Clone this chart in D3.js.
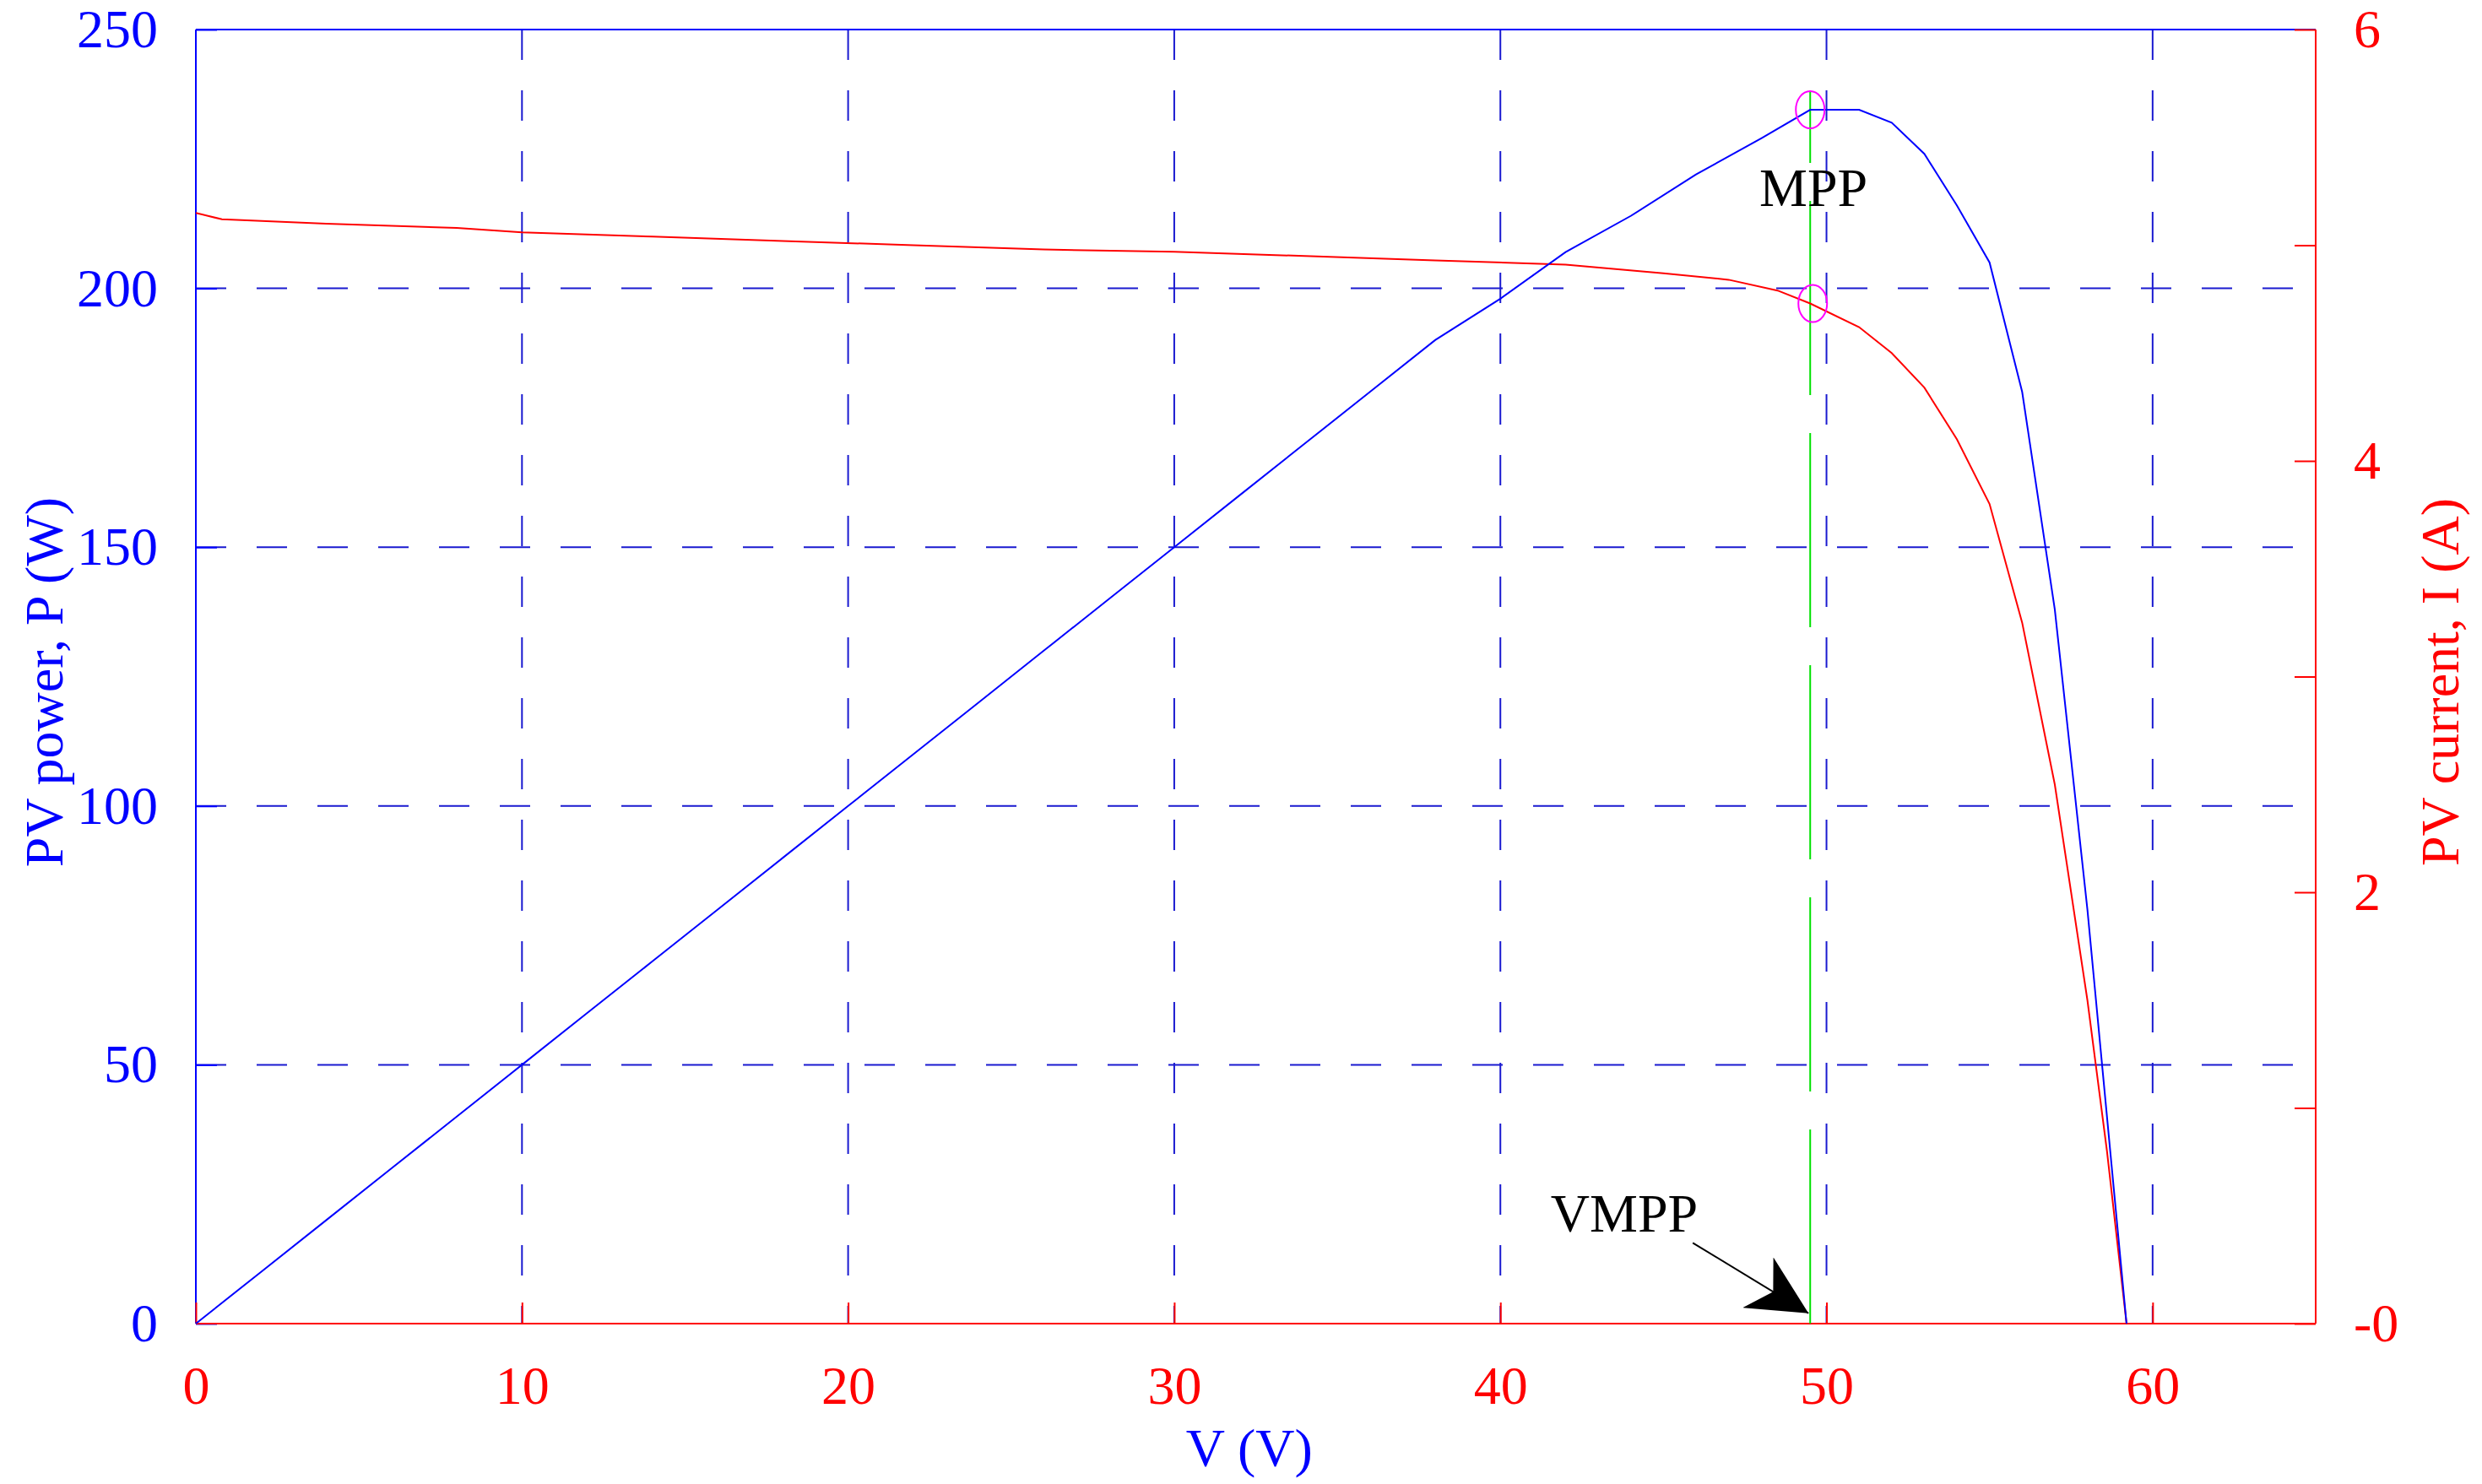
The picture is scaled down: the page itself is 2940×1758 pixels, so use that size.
<!DOCTYPE html>
<html><head><meta charset="utf-8">
<script src="https://cdn.jsdelivr.net/npm/d3@7"></script>
<style>body{margin:0;background:#fff}svg{display:block}text{font-family:"Liberation Serif","Times New Roman",serif}</style>
</head><body><svg id="c" width="2940" height="1758"></svg>
<script>
const powerV = [0,2,4,6,8,10,12,14,16,18,20,22,24,26,28,30,32,34,36,38,40,42,44,46,48,49.5,51,52,53,54,55,56,57,58,59.2];
const powerP = [0,10,20,30,40,50,60,70,80,90,100,110,120,130,140,150,160,170,180,190,198,207,214,222,229,234.5,234.5,232,226,216,205,180,138,80,0];
const currV = [0,0.8,4,8,10,14,18,22,26,30,34,38,42,45,47,48.5,49.5,51,52,53,54,55,56,57,58,58.6,59.2];
const currI = [5.15,5.12,5.1,5.08,5.06,5.04,5.02,5.0,4.98,4.97,4.95,4.93,4.91,4.87,4.84,4.79,4.73,4.62,4.5,4.34,4.1,3.8,3.25,2.5,1.5,0.8,0];
const xTicks = [0,10,20,30,40,50,60];
const pTicks = [0,50,100,150,200,250];
const iTicks = [0,1,2,3,4,5,6];
const iLabels = {0:"-0",2:"2",4:"4",6:"6"};
const mpp = {v:49.5, p:234.5, i:4.73};

const L=232,R=2743,T=35,B=1568;
const svg=d3.select("#c");
const x=d3.scaleLinear().domain([0,65]).range([L,R]);
const yP=d3.scaleLinear().domain([0,250]).range([B,T]);
const yI=d3.scaleLinear().domain([0,6]).range([B,T]);
const FS=64;

// grid
svg.append("g").selectAll("line").data(xTicks.filter(d=>d>0)).join("line")
 .attr("x1",d=>x(d)).attr("x2",d=>x(d)).attr("y1",T).attr("y2",B)
 .attr("stroke","#1a1ad0").attr("stroke-width",2).attr("stroke-dasharray","36 36");
svg.append("g").selectAll("line").data(pTicks.filter(d=>d>0&&d<250)).join("line")
 .attr("x1",L).attr("x2",R).attr("y1",d=>yP(d)).attr("y2",d=>yP(d))
 .attr("stroke","#1a1ad0").attr("stroke-width",2).attr("stroke-dasharray","36 36");

// frame
svg.append("line").attr("x1",L).attr("x2",R).attr("y1",T).attr("y2",T).attr("stroke","#0000ff").attr("stroke-width",2);

// axes
const gl=svg.append("g").attr("transform",`translate(${L},0)`)
 .call(d3.axisLeft(yP).tickValues(pTicks).tickSize(-25).tickPadding(45));
gl.selectAll("path,line").attr("stroke","#0000ff").attr("stroke-width",2);
gl.selectAll("text").attr("fill","#0000ff").style("font-size",FS+"px").style("font-family","Liberation Serif");
gl.select(".domain").attr("d",`M0,${T}V${B}`);

const gb=svg.append("g").attr("transform",`translate(0,${B})`)
 .call(d3.axisBottom(x).tickValues(xTicks).tickSize(-25).tickPadding(50));
gb.selectAll("path,line").attr("stroke","#ff0000").attr("stroke-width",2);
gb.selectAll("text").attr("fill","#ff0000").style("font-size",FS+"px").style("font-family","Liberation Serif");
gb.select(".domain").attr("d",`M${L},0H${R}`);

const gr=svg.append("g").attr("transform",`translate(${R},0)`)
 .call(d3.axisRight(yI).tickValues(iTicks).tickSize(-25).tickPadding(45).tickFormat(d=>iLabels[d]||""));
gr.selectAll("path,line").attr("stroke","#ff0000").attr("stroke-width",2);
gr.selectAll("text").attr("fill","#ff0000").style("font-size",FS+"px").style("font-family","Liberation Serif");
gr.select(".domain").attr("d",`M0,${T}V${B}`);

// green vmpp line
svg.append("line").attr("x1",x(mpp.v)).attr("x2",x(mpp.v)).attr("y1",B).attr("y2",yP(238))
 .attr("stroke","#00e000").attr("stroke-width",2).attr("stroke-dasharray","230 45");

// curves
const pts=(xs,ys)=>xs.map((v,i)=>[v,ys[i]]);
svg.append("path").datum(pts(currV,currI))
 .attr("d",d3.line().x(d=>x(d[0])).y(d=>yI(d[1]))).attr("fill","none").attr("stroke","#ff0000").attr("stroke-width",2);
svg.append("path").datum(pts(powerV,powerP))
 .attr("d",d3.line().x(d=>x(d[0])).y(d=>yP(d[1]))).attr("fill","none").attr("stroke","#0000ff").attr("stroke-width",2);

// MPP markers
svg.append("ellipse").attr("cx",x(mpp.v)).attr("cy",yP(mpp.p)).attr("rx",17).attr("ry",22).attr("fill","none").attr("stroke","#ff00ff").attr("stroke-width",2);
svg.append("ellipse").attr("cx",x(mpp.v)+3).attr("cy",yI(mpp.i)).attr("rx",17).attr("ry",22).attr("fill","none").attr("stroke","#ff00ff").attr("stroke-width",2);

// annotations
svg.append("text").attr("x",x(49.6)).attr("y",yP(219.6)).attr("dy","0.35em").attr("text-anchor","middle")
 .style("font-size",FS+"px").attr("fill","#000").text("MPP");
svg.append("text").attr("x",x(43.8)).attr("y",yP(21.4)).attr("dy","0.35em").attr("text-anchor","middle")
 .style("font-size",FS+"px").attr("fill","#000").text("VMPP");
const ax1=x(45.9), ay1=yP(15.6), ax2=x(mpp.v)-2, ay2=yP(2);
svg.append("defs").append("marker").attr("id","ah").attr("viewBox","0 0 10 10").attr("refX",10).attr("refY",5)
 .attr("markerWidth",12).attr("markerHeight",12).attr("markerUnits","userSpaceOnUse")
 .attr("orient","auto").append("path").attr("d","M0,0L10,5L0,10L3,5Z").attr("fill","#000");
svg.select("#ah").attr("markerWidth",70).attr("markerHeight",70);
svg.append("line").attr("x1",ax1).attr("y1",ay1).attr("x2",ax2).attr("y2",ay2).attr("stroke","#000").attr("stroke-width",2).attr("marker-end","url(#ah)");

// axis titles
svg.append("text").attr("x",x(32.3)).attr("y",1715).attr("dy","0.35em").attr("text-anchor","middle")
 .style("font-size",FS+"px").attr("fill","#0000ff").text("V (V)");
svg.append("text").attr("transform","translate(52,808) rotate(-90)").attr("dy","0.35em").attr("text-anchor","middle")
 .style("font-size",FS+"px").attr("fill","#0000ff").text("PV power, P (W)");
svg.append("text").attr("transform","translate(2890,808) rotate(-90)").attr("dy","0.35em").attr("text-anchor","middle")
 .style("font-size",FS+"px").attr("fill","#ff0000").text("PV current, I (A)");
</script></body></html>
